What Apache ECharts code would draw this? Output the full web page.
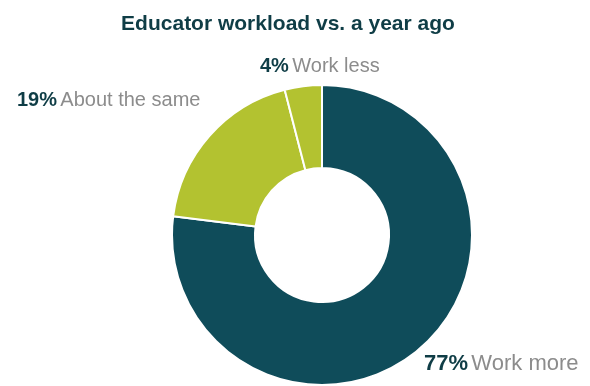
<!DOCTYPE html>
<html>
<head>
<meta charset="utf-8">
<script src="https://cdn.jsdelivr.net/npm/echarts@6/dist/echarts.min.js"></script>
<style>
	html, body { margin: 0; padding: 0; background: #fff; }
	#chart { width: 590px; height: 386px; }
</style>
</head>
<body>
<div id="chart"></div>
<script>
	// workload shares, clockwise from 12 o'clock
	const categories = ['Work more', 'About the same', 'Work less'];
	const shares = [77, 19, 4];
	const sliceColors = ['#0f4c5a', '#b3c230', '#b3c230'];

	// where each label sits (left edge, vertical middle) and its size
	const labelPos = [
		{ x: 424, y: 364 },
		{ x: 17, y: 100 },
		{ x: 260, y: 66 }
	];
	const labelSizes = [22, 20, 20];

	let myChart = echarts.init(document.getElementById('chart'));
	let option = {
		backgroundColor: '#fff',
		title: {
			text: 'Educator workload vs. a year ago',
			left: 283,
			top: 9,
			textAlign: 'center',
			textStyle: {
				color: '#0f3d46',
				fontSize: 21,
				fontWeight: 'bold',
				fontFamily: 'Liberation Sans'
			}
		},
		series: [{
			type: 'pie',
			center: [322, 235],
			radius: [67, 150],
			startAngle: 90,
			clockwise: true,
			avoidLabelOverlap: false,
			itemStyle: {
				borderColor: '#fff',
				borderWidth: 2
			},
			label: {
				show: true,
				position: 'outside',
				formatter: p => '{pct|' + p.value + '%} {nm|' + p.name + '}'
			},
			labelLine: { show: false },
			labelLayout: params => ({
				x: labelPos[params.dataIndex].x,
				y: labelPos[params.dataIndex].y,
				align: 'left',
				verticalAlign: 'middle'
			}),
			emphasis: { disabled: true },
			data: categories.map((name, i) => ({
				name: name,
				value: shares[i],
				itemStyle: { color: sliceColors[i] },
				label: {
					rich: {
						pct: {
							fontSize: labelSizes[i],
							fontWeight: 'bold',
							color: '#0f3d46',
							fontFamily: 'Liberation Sans'
						},
						nm: {
							fontSize: labelSizes[i],
							color: '#8c8c8c',
							fontFamily: 'Liberation Sans'
						}
					}
				}
			}))
		}]
	};
	myChart.setOption(option);
</script>
</body>
</html>
